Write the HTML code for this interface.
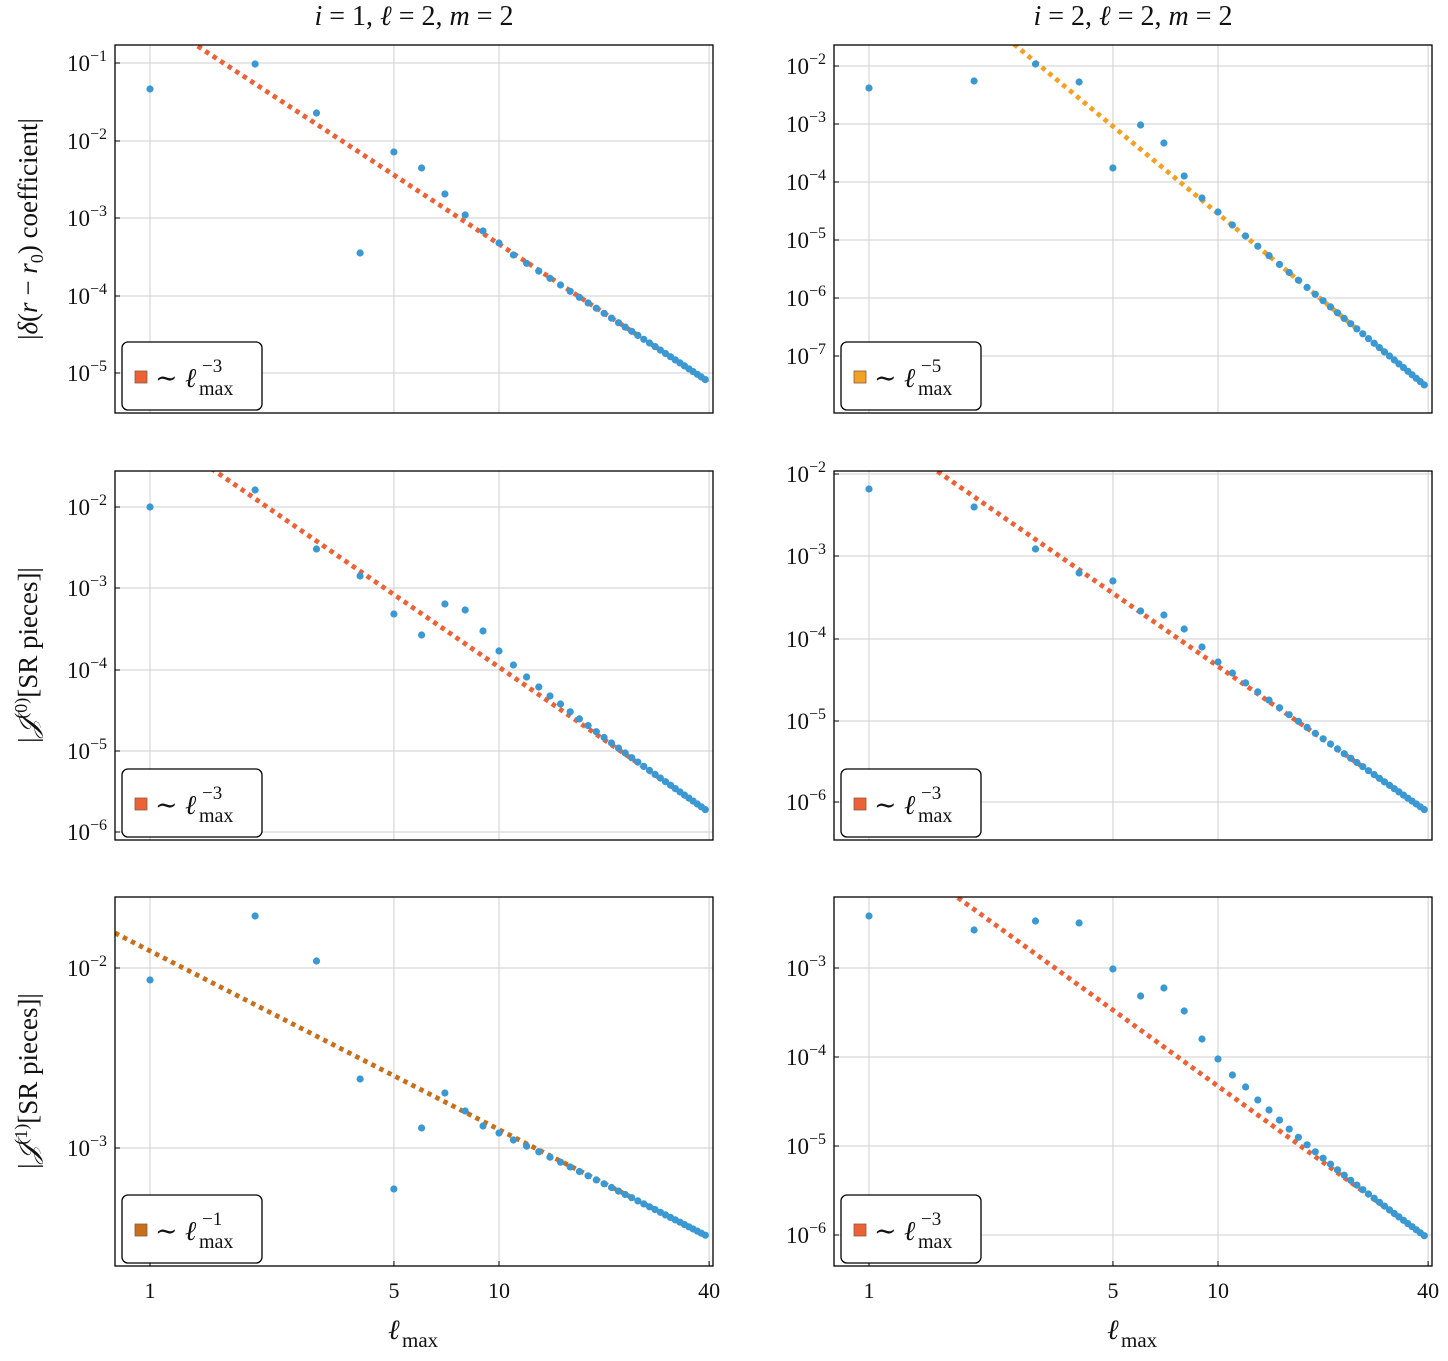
<!DOCTYPE html>
<html><head><meta charset="utf-8"><style>
body{margin:0;background:#fff;}
svg text{font-family:"Liberation Serif","DejaVu Serif",serif;fill:#111;}
</style></head><body>
<svg id="s" xmlns="http://www.w3.org/2000/svg" width="1448" height="1356" viewBox="0 0 1448 1356"></svg>
<script>
const S=document.getElementById('s');let h='';
const BLUE='#3a98d2';
function X(col,l){return (col?869:150)+Math.log10(l)*349;}
const panels=[
 {col:0,y0:45,y1:413,dec:[[-1,63],[-2,141],[-3,218],[-4,296],[-5,373]],line:[[196,45],[709,382]],c:'#ec6236',pw:'−3',
  pts:[89,64,113,253,152,168,194,215,231,243,255]},
 {col:1,y0:45,y1:413,dec:[[-2,66],[-3,124],[-4,182],[-5,240],[-6,298],[-7,356]],line:[[1015,45],[1422,383]],c:'#f2a124',pw:'−5',
  pts:[88,81,64,82,168,125,143,176,198,212,225,236]},
 {col:0,y0:471,y1:840,dec:[[-2,507],[-3,588],[-4,670],[-5,751],[-6,832]],line:[[215,471],[703,808]],c:'#ec6236',pw:'−3',
  pts:[507,490,549,576,614,635,604,610,631,651,665,677,687,696,704]},
 {col:1,y0:471,y1:840,dec:[[-2,474],[-3,556],[-4,639],[-5,721],[-6,802]],line:[[937,471],[1422,808]],c:'#ec6236',pw:'−3',
  pts:[489,507,549,573,581,611,615,629,647,662,673]},
 {col:0,y0:897,y1:1266,dec:[[-2,968],[-3,1148]],line:[[115,933],[703,1234]],c:'#c86f1c',pw:'−1',
  pts:[980,916,961,1079,1189,1128,1093,1111,1126,1133,1140]},
 {col:1,y0:897,y1:1266,dec:[[-3,968],[-4,1057],[-5,1146],[-6,1235]],line:[[957,897],[1422,1234]],c:'#ec6236',pw:'−3',
  pts:[916,930,921,923,969,996,988,1011,1039,1059,1075,1087,1100,1110]},
];
for(const p of panels){
 const x0=p.col?834:115,x1=p.col?1432:713;
 const [[lx0,ly0],[lx1,ly1]]=p.line;const LY=x=>ly0+(x-lx0)*(ly1-ly0)/(lx1-lx0);
 h+=`<clipPath id="c${p.y0}${p.col}"><rect x="${x0}" y="${p.y0}" width="${x1-x0}" height="${p.y1-p.y0}"/></clipPath>`;
 for(const l of [1,5,10,40]){const x=X(p.col,l);h+=`<line x1="${x}" y1="${p.y0}" x2="${x}" y2="${p.y1}" stroke="#cfcfcf" stroke-width="1"/>`;}
 for(const [e,y] of p.dec){h+=`<line x1="${x0}" y1="${y}" x2="${x1}" y2="${y}" stroke="#cfcfcf" stroke-width="1"/><line x1="${x0}" y1="${y}" x2="${x0+5}" y2="${y}" stroke="#000"/>`;
  h+=`<text x="${x0-8}" y="${y+8}" font-size="23" text-anchor="end">10<tspan dy="-10" font-size="16">−${-e}</tspan></text>`;}
 if(p.y0==897){for(const l of [1,5,10,40]){const x=X(p.col,l);h+=`<line x1="${x}" y1="${p.y1}" x2="${x}" y2="${p.y1-5}" stroke="#000"/><text x="${x}" y="${p.y1+32}" font-size="22" text-anchor="middle">${l}</text>`;}}
 h+=`<g clip-path="url(#c${p.y0}${p.col})"><line x1="${x0}" y1="${LY(x0)}" x2="${lx1}" y2="${LY(lx1)}" stroke="${p.c}" stroke-width="4.8" stroke-dasharray="4.5 4.5"/>`;
 const n=p.pts.length;const lastOff=LY(X(p.col,n))-p.pts[n-1];
 for(let l=1;l<=39;l++){const x=X(p.col,l);let y;
  if(l<=n)y=p.pts[l-1];else{const off=lastOff*Math.pow(n/l,2.5)*(39-l)/(39-n);y=LY(x)-off;}
  h+=`<circle cx="${x.toFixed(1)}" cy="${y.toFixed(1)}" r="3.6" fill="${BLUE}"/>`;}
 h+=`</g><rect x="${x0}" y="${p.y0}" width="${x1-x0}" height="${p.y1-p.y0}" fill="none" stroke="#000" stroke-width="1.3"/>`;
 const gx=x0+7,gy=p.y1-71;
 h+=`<rect x="${gx}" y="${gy}" width="140" height="68" rx="6" fill="#fff" stroke="#000" stroke-width="1.3"/>`;
 h+=`<rect x="${gx+13}" y="${gy+29}" width="12" height="12" fill="${p.c}" stroke="#8a5a40" stroke-width="0.8"/>`;
 h+=`<text x="${gx+33}" y="${gy+45}" font-size="27">∼</text><text x="${gx+63}" y="${gy+45}" font-size="27" font-style="italic">ℓ</text>`;
 h+=`<text x="${gx+80}" y="${gy+30}" font-size="19">${p.pw}</text><text x="${gx+77}" y="${gy+53}" font-size="20">max</text>`;
}
h+=`<text x="414" y="25" font-size="28" text-anchor="middle"><tspan font-style="italic">i</tspan> = 1, <tspan font-style="italic">ℓ</tspan> = 2, <tspan font-style="italic">m</tspan> = 2</text>`;
h+=`<text x="1133" y="25" font-size="28" text-anchor="middle"><tspan font-style="italic">i</tspan> = 2, <tspan font-style="italic">ℓ</tspan> = 2, <tspan font-style="italic">m</tspan> = 2</text>`;
for(const cx of [414,1133]){h+=`<text x="${cx-26}" y="1339" font-size="28" font-style="italic">ℓ</text><text x="${cx-12}" y="1347" font-size="21">max</text>`;}
const yl=[[229,'|<tspan font-style="italic">δ</tspan>(<tspan font-style="italic">r</tspan> − <tspan font-style="italic">r</tspan><tspan font-size="18" dy="6">0</tspan><tspan dy="-6">) coefficient|</tspan>'],
 [655,'|<tspan font-style="italic">𝒥</tspan><tspan font-size="18" dy="-10">(0)</tspan><tspan dy="10">[SR pieces]|</tspan>'],
 [1081,'|<tspan font-style="italic">𝒥</tspan><tspan font-size="18" dy="-10">(1)</tspan><tspan dy="10">[SR pieces]|</tspan>']];
for(const [y,t] of yl)h+=`<text transform="translate(37,${y}) rotate(-90)" font-size="27" text-anchor="middle">${t}</text>`;
S.innerHTML=h;
</script>
</body></html>
